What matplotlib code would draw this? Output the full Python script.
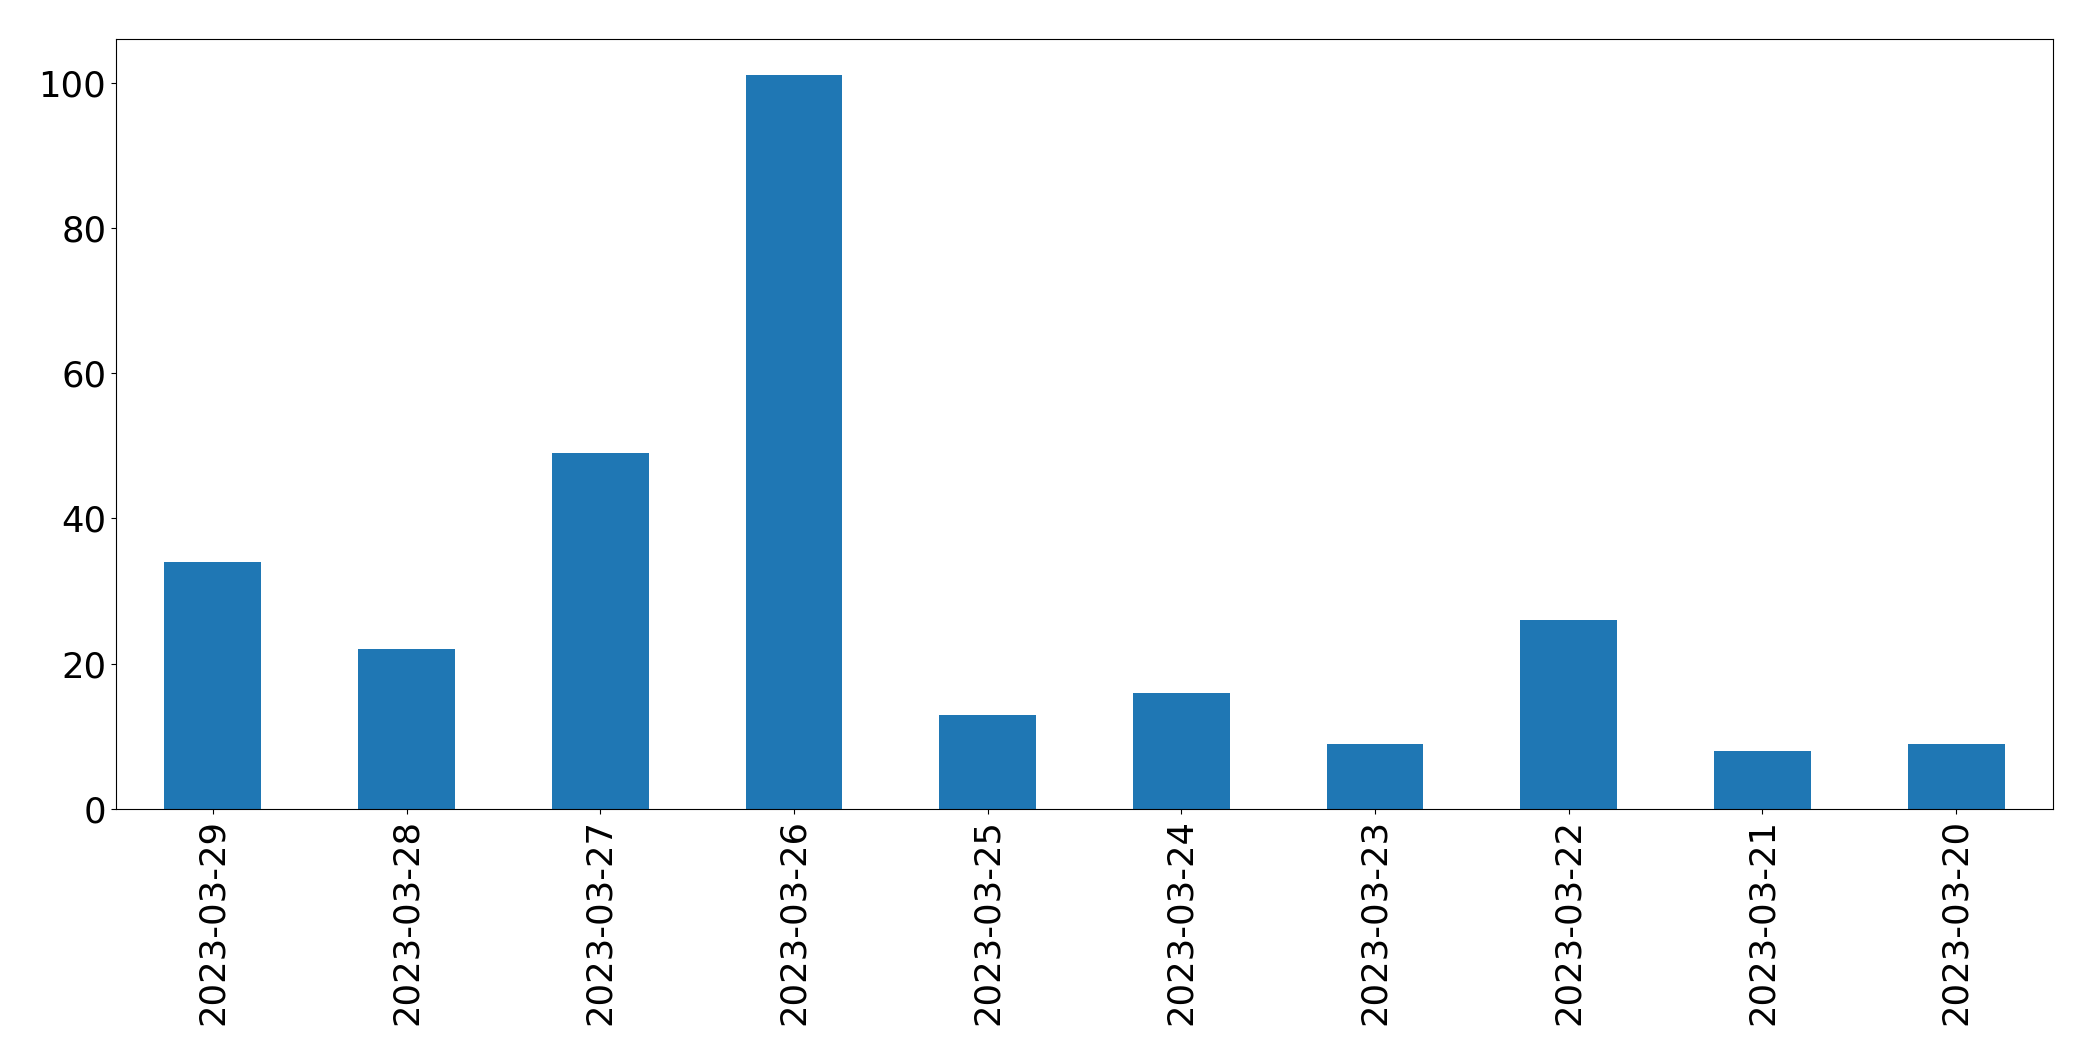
import matplotlib
matplotlib.use("Agg")
import matplotlib.pyplot as plt

dates = ["2023-03-29", "2023-03-28", "2023-03-27", "2023-03-26", "2023-03-25",
         "2023-03-24", "2023-03-23", "2023-03-22", "2023-03-21", "2023-03-20"]
counts = [34, 22, 49, 101, 13, 16, 9, 26, 8, 9]

fig = plt.figure(figsize=(20.93, 10.61), dpi=100)
ax = fig.add_axes([116/2093, 1 - 809/1061, (2053 - 116)/2093, (809 - 39)/1061])
ax.bar(range(len(dates)), counts, width=0.5, color="#1f77b4")
ax.set_xticks(range(len(dates)))
ax.set_xticklabels(dates, rotation=90)
ax.set_xlim(-0.5, len(dates) - 0.5)
ax.set_ylim(0, 106)
ax.tick_params(labelsize=25.5)
fig.savefig("out.png", dpi=100)
